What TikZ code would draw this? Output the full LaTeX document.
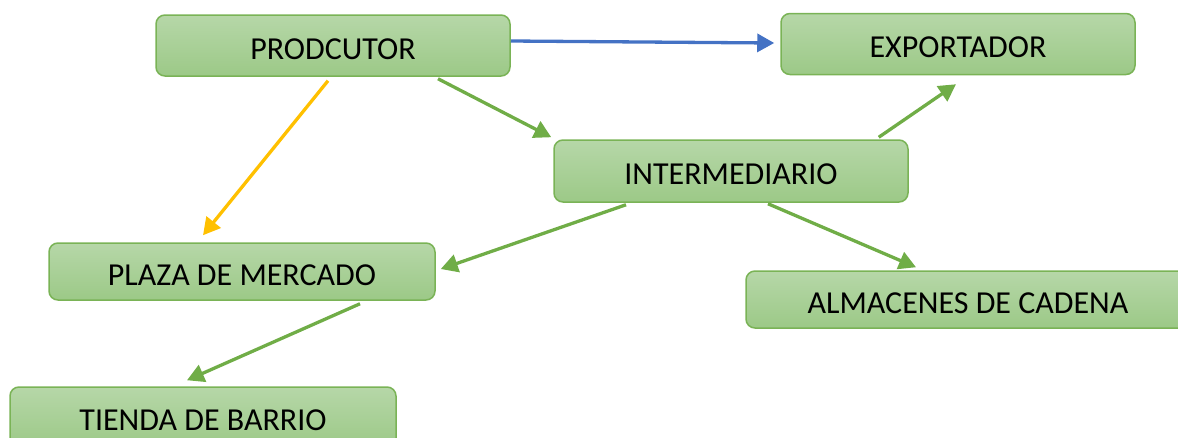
\documentclass[tikz,border=0pt]{standalone}
\usepackage{fontspec}
\setmainfont{Carlito}
\usetikzlibrary{arrows.meta,calc}
\definecolor{boxtop}{HTML}{B6D7A8}
\definecolor{boxbot}{HTML}{9CC987}
\definecolor{boxline}{HTML}{7AB356}
\definecolor{arrgreen}{HTML}{70AD47}
\definecolor{arrblue}{HTML}{4472C4}
\definecolor{arryellow}{HTML}{FFC000}
\tikzset{
  stagebox/.style={draw=boxline, line width=1.5pt, rounded corners=9pt,
    top color=boxtop, bottom color=boxbot, inner sep=0pt,
    minimum height=61pt, font=\fontsize{32}{38}\selectfont},
  flow/.style={line width=3.3pt, -{Triangle[length=17pt,width=18pt]}},
}
% labels sit slightly below the middle of their box
\newcommand{\lbl}[1]{\raisebox{-3.5pt}[\height][\depth]{#1}}
\begin{document}
\begin{tikzpicture}[x=1pt,y=-1pt]
  \useasboundingbox (0,0) rectangle (1178,437);
  \clip (0,0) rectangle (1178,437);
  % stages of the supply chain
  \node[stagebox, minimum width=354pt] (prod) at (333,45.5) {\lbl{PRODCUTOR}};
  \node[stagebox, minimum width=354pt] (exp) at (958,44) {\lbl{EXPORTADOR}};
  \node[stagebox, minimum width=354pt, minimum height=62pt] (inter) at (731,171) {\lbl{INTERMEDIARIO}};
  \node[stagebox, minimum width=386pt, minimum height=57pt] (plaza) at (242,271.5) {\lbl{PLAZA DE MERCADO}};
  \node[stagebox, minimum width=444pt, minimum height=57pt] (alm) at (968,299.5) {\lbl{ALMACENES DE CADENA}};
  \node[stagebox, minimum width=386pt, minimum height=60pt] (tienda) at (203,417) {\lbl{TIENDA DE BARRIO}};
  % product flows
  \draw[flow, arrblue] ($(prod.east)+(0,-4.5)$) -- ($(exp.west)+(-6,-1)$);
  \draw[flow, arryellow] ($(prod.south)+(-5,4)$) -- ($(plaza.north)+(-39,-7)$);
  \draw[flow, arrgreen] ($(prod.south)+(105,2)$) -- ($(inter.north west)+(-2,-2)$);
  \draw[flow, arrgreen] ($(inter.north east)+(-30,-2)$) -- ($(exp.south)+(-2,9)$);
  \draw[flow, arrgreen] ($(inter.south)+(-105,2)$) -- ($(plaza.east)+(5,-2.5)$);
  \draw[flow, arrgreen] ($(inter.south)+(37,1)$) -- ($(alm.north)+(-52,-3)$);
  \draw[flow, arrgreen] ($(plaza.south)+(118,3)$) -- ($(tienda.north)+(-16,-6)$);
\end{tikzpicture}
\end{document}
